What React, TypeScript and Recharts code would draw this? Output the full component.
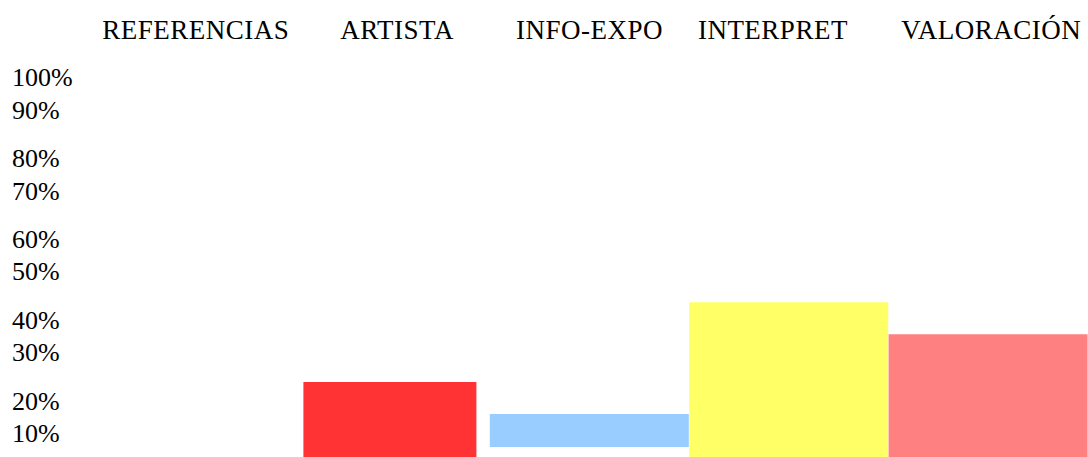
import React from "react";
import { BarChart, Bar, XAxis, YAxis, Cell, Rectangle } from "recharts";

const categories = ["REFERENCIAS", "ARTISTA", "INFO-EXPO", "INTERPRET", "VALORACIÓN"];
// bottom and top of each bar, in percent (INFO-EXPO floats)
const lowValues = [null, 0, 6.3, 0, 0];
const highValues = [null, 22.8, 14.7, 43.0, 34.9];

// the source axis labels are not evenly spaced
const yTickValues = [100, 91.6, 79.5, 71.1, 58.9, 50.8, 38.6, 30.5, 18.0, 9.9];
const yTickLabels = ["100%", "90%", "80%", "70%", "60%", "50%", "40%", "30%", "20%", "10%"];

const barColors = ["#ff3333", "#ff3333", "#99ccff", "#ffff66", "#ff8080"];
// ARTISTA bar is drawn a bit narrower than the others
const barInset: Record<string, number> = { ARTISTA: 13 };
// header labels sit a little off their column centres in the original
const labelShift: Record<string, number> = { REFERENCIAS: 5, ARTISTA: 7, INTERPRET: -16, VALORACIÓN: 3 };

const data = categories.map((name, i) => ({
  name,
  range: highValues[i] == null ? null : [lowValues[i], highValues[i]],
}));

const FONT = '"Liberation Serif", "Times New Roman", serif';

const CategoryTick = (props: any) => {
  const { x, payload } = props;
  return (
    <text
      x={x + (labelShift[payload.value] || 0)}
      y={39}
      textAnchor="middle"
      fontFamily={FONT}
      fontSize={27}
      letterSpacing={0.5}
      fill="#000"
    >
      {payload.value}
    </text>
  );
};

const PercentTick = (props: any) => {
  const { y, payload } = props;
  const label = yTickLabels[yTickValues.indexOf(payload.value)];
  return (
    <text x={12} y={y + 9} textAnchor="start" fontFamily={FONT} fontSize={26} fill="#000">
      {label}
    </text>
  );
};

const BarShape = (props: any) => {
  const { x, y, width, height, fill, payload } = props;
  const inset = barInset[payload.name] || 0;
  return <Rectangle x={x + inset} y={y} width={width - inset * 2} height={height} fill={fill} />;
};

export default function App() {
  return (
    <div
      style={{
        position: "fixed",
        top: 0,
        left: 0,
        width: 1088,
        height: 457,
        overflow: "hidden",
        background: "#fff",
      }}
    >
      <BarChart
        width={1088}
        height={472}
        data={data}
        margin={{ top: 0, right: 0, bottom: 0, left: 0 }}
        barSize={199}
      >
        <XAxis
          dataKey="name"
          orientation="top"
          height={77}
          axisLine={false}
          tickLine={false}
          interval={0}
          tick={<CategoryTick />}
        />
        <YAxis
          type="number"
          domain={[0, 100]}
          ticks={yTickValues}
          interval={0}
          width={91}
          axisLine={false}
          tickLine={false}
          tick={<PercentTick />}
        />
        <Bar dataKey="range" isAnimationActive={false} shape={<BarShape />}>
          {data.map((d, i) => (
            <Cell key={d.name} fill={barColors[i]} />
          ))}
        </Bar>
      </BarChart>
    </div>
  );
}
